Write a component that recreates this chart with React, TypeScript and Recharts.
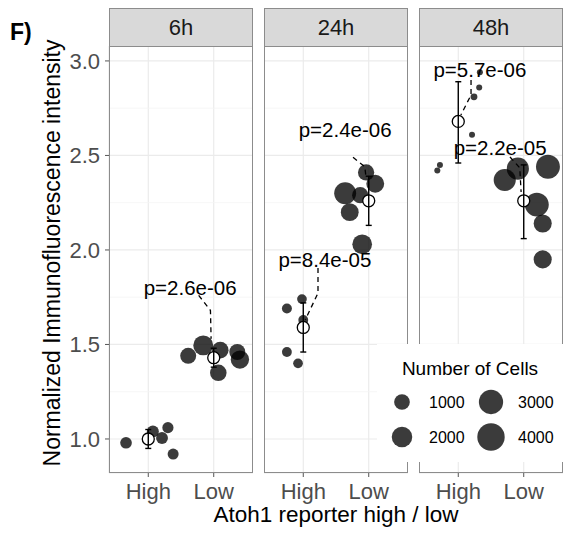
import React from 'react'
import {
  ScatterChart,
  Scatter,
  XAxis,
  YAxis,
  CartesianGrid,
  ReferenceLine
} from 'recharts'

const FONT = '"Liberation Sans", Arial, Helvetica, sans-serif'

const panelNames = ['6h', '24h', '48h']
const groupLabels = ['High', 'Low']
const xTicks = [1, 2]
const yTicks = [1.0, 1.5, 2.0, 2.5, 3.0]
const yMinorTicks = [1.25, 1.75, 2.25, 2.75]
const legendCells = [1000, 2000, 3000, 4000]

// 6h wells: jittered group position, intensity, number of cells
const pos6h = [0.66, 1.07, 1.21, 1.3, 1.38, 1.61, 1.84, 2.1, 2.36, 2.4, 2.07]
const val6h = [0.98, 1.04, 1.005, 1.06, 0.92, 1.44, 1.495, 1.47, 1.46, 1.42, 1.35]
const cells6h = [430, 470, 450, 380, 360, 1050, 1850, 1150, 1050, 1500, 1150]

// 24h wells
const pos24h = [0.75, 0.98, 0.75, 0.92, 1.0, 1.96, 2.1, 1.64, 1.87, 1.71, 1.9]
const val24h = [1.69, 1.74, 1.46, 1.4, 1.63, 2.41, 2.35, 2.3, 2.29, 2.2, 2.03]
const cells24h = [260, 240, 250, 240, 250, 1100, 1400, 2350, 1100, 1400, 1800]

// 48h wells
const pos48h = [1.33, 1.32, 1.24, 1.21, 0.68, 0.72, 1.91, 1.71, 2.37, 2.2, 2.29, 2.29]
const val48h = [2.94, 2.86, 2.81, 2.61, 2.42, 2.45, 2.43, 2.37, 2.44, 2.24, 2.14, 1.95]
const cells48h = [30, 30, 60, 30, 30, 30, 2400, 2400, 2900, 2900, 1450, 1450]

// group means (High, Low) with error bar limits
const mean6h = [1.0, 1.43]
const lo6h = [0.95, 1.38]
const hi6h = [1.05, 1.48]
const mean24h = [1.59, 2.26]
const lo24h = [1.46, 2.13]
const hi24h = [1.72, 2.39]
const mean48h = [2.68, 2.26]
const lo48h = [2.46, 2.06]
const hi48h = [2.89, 2.45]

// p-value labels and their leader lines
type Note = { label: string; lx: number; ly: number; path: [number, number][] }
const notes6h: Note[] = [
  { label: 'p=2.6e-06', lx: 1.64, ly: 1.8, path: [[1.77, 1.76], [1.95, 1.68], [1.96, 1.53]] }
]
const notes24h: Note[] = [
  { label: 'p=8.4e-05', lx: 1.33, ly: 1.947, path: [[1.225, 1.905], [1.225, 1.772], [1.03, 1.63]] },
  { label: 'p=2.4e-06', lx: 1.64, ly: 2.635, path: [[1.76, 2.49], [1.94, 2.44], [1.96, 2.38]] }
]
const notes48h: Note[] = [
  { label: 'p=5.7e-06', lx: 1.33, ly: 2.952, path: [[1.195, 2.899], [1.195, 2.82], [1.04, 2.714]] },
  { label: 'p=2.2e-05', lx: 1.64, ly: 2.54, path: [[1.79, 2.492], [1.94, 2.434], [1.96, 2.307]] }
]

const radiusFor = (n: number) => 2 + 0.185 * Math.sqrt(n)

const PLOT_TOP = 46
const PLOT_H = 427
const PANEL_W = 144
const YAXIS_W = 109
const XAXIS_H = 40
const panelLefts = [109, 264, 419]

type PanelProps = {
  pos: number[]
  val: number[]
  cells: number[]
  mean: number[]
  lo: number[]
  hi: number[]
  notes: Note[]
  showY: boolean
  left: number
}

const tickStyle = { fill: '#4d4d4d', fontSize: 22, fontFamily: FONT }

const Panel: React.FC<PanelProps> = ({ pos, val, cells, mean, lo, hi, notes, showY, left }) => {
  const points = pos.map((x, i) => ({ x, y: val[i], cells: cells[i] }))
  const means = mean.map((m, i) => ({ x: i + 1, y: m }))
  const width = PANEL_W + (showY ? YAXIS_W : 0)

  return (
    <div style={{ position: 'absolute', left: showY ? left - YAXIS_W : left, top: PLOT_TOP }}>
      <ScatterChart width={width} height={PLOT_H + XAXIS_H} margin={{ top: 0, right: 0, bottom: 0, left: 0 }}>
        <CartesianGrid stroke="#ebebeb" strokeWidth={1.2} />
        <XAxis
          type="number"
          dataKey="x"
          domain={[0.4, 2.6]}
          ticks={xTicks}
          interval={0}
          allowDataOverflow
          tickFormatter={(v: number) => groupLabels[v - 1]}
          axisLine={false}
          tickSize={4}
          tickMargin={6}
          tickLine={{ stroke: '#555' }}
          tick={tickStyle}
          height={XAXIS_H}
        />
        <YAxis
          type="number"
          dataKey="y"
          domain={[0.82, 3.079]}
          ticks={yTicks}
          interval={0}
          allowDataOverflow
          hide={!showY}
          tickFormatter={(v: number) => v.toFixed(1)}
          axisLine={false}
          tickSize={4}
          tickMargin={5}
          tickLine={{ stroke: '#555' }}
          tick={tickStyle}
          width={YAXIS_W}
        />
        {yMinorTicks.map((v) => (
          <ReferenceLine key={v} y={v} stroke="#f4f4f4" strokeWidth={0.8} />
        ))}
        <Scatter
          data={points}
          isAnimationActive={false}
          shape={(p: any) => (
            <circle cx={p.cx} cy={p.cy} r={radiusFor(p.payload.cells)} fill="#000" fillOpacity={0.77} />
          )}
        />
        <Scatter
          data={means}
          isAnimationActive={false}
          shape={(p: any) => <circle cx={p.cx} cy={p.cy} r={6} fill="#fff" stroke="#000" strokeWidth={1.3} />}
        />
        {/* error bars drawn above the open mean circles */}
        {mean.map((_, i) => (
          <Scatter
            key={'err' + i}
            data={[{ x: i + 1, y: lo[i] }, { x: i + 1, y: hi[i] }]}
            isAnimationActive={false}
            line={{ stroke: '#000', strokeWidth: 1.4 }}
            shape={(p: any) => (
              <line x1={p.cx - 3} x2={p.cx + 3} y1={p.cy} y2={p.cy} stroke="#000" strokeWidth={1.4} />
            )}
          />
        ))}
        {notes.map((n) => (
          <Scatter
            key={n.label + '-line'}
            data={n.path.map(([x, y]) => ({ x, y }))}
            isAnimationActive={false}
            line={{ stroke: '#000', strokeWidth: 1.3, strokeDasharray: '5 4' }}
            shape={() => <g />}
          />
        ))}
        {notes.map((n) => (
          <Scatter
            key={n.label}
            data={[{ x: n.lx, y: n.ly, label: n.label }]}
            isAnimationActive={false}
            shape={(p: any) => (
              <text x={p.cx} y={p.cy} dy="0.35em" textAnchor="middle" fontSize={20.5} fontFamily={FONT} fill="#000">
                {p.payload.label}
              </text>
            )}
          />
        ))}
      </ScatterChart>
    </div>
  )
}

const Overlay: React.FC = () => (
  <svg
    width={563}
    height={533}
    style={{ position: 'absolute', left: 0, top: 0, pointerEvents: 'none' }}
    fontFamily={FONT}
  >
    <text x={10} y={40} fontSize={23} fontWeight="bold" fill="#000">F)</text>
    {panelLefts.map((x, i) => (
      <g key={panelNames[i]}>
        <rect x={x + 0.5} y={8.5} width={PANEL_W - 1} height={PLOT_TOP - 8} fill="#d9d9d9" stroke="#8c8c8c" />
        <text x={x + PANEL_W / 2} y={27} dy="0.35em" textAnchor="middle" fontSize={22} fill="#1a1a1a">
          {panelNames[i]}
        </text>
        <rect x={x + 0.5} y={PLOT_TOP + 0.5} width={PANEL_W - 1} height={PLOT_H - 1} fill="none" stroke="#8c8c8c" />
      </g>
    ))}
    <text transform="translate(52,253) rotate(-90)" dy="0.35em" textAnchor="middle" fontSize={23} fill="#000">
      Normalized Immunofluorescence intensity
    </text>
    <text x={336} y={522} textAnchor="middle" fontSize={22.5} fill="#000">
      Atoh1 reporter high / low
    </text>
    <rect x={377} y={344} width={186} height={118} fill="#fff" />
    <text x={470} y={375} textAnchor="middle" fontSize={19} fill="#000">Number of Cells</text>
    {legendCells.map((n, i) => {
      const cx = i < 2 ? 402 : 491
      const cy = i % 2 === 0 ? 402 : 437
      return (
        <g key={n}>
          <circle cx={cx} cy={cy} r={radiusFor(n)} fill="#000" fillOpacity={0.77} />
          <text x={cx + 27} y={cy} dy="0.35em" fontSize={16} fill="#000">{n}</text>
        </g>
      )
    })}
  </svg>
)

const App: React.FC = () => (
  <div style={{ position: 'absolute', left: 0, top: 0, width: 563, height: 533, background: '#fff' }}>
    <Panel pos={pos6h} val={val6h} cells={cells6h} mean={mean6h} lo={lo6h} hi={hi6h} notes={notes6h} showY left={panelLefts[0]} />
    <Panel pos={pos24h} val={val24h} cells={cells24h} mean={mean24h} lo={lo24h} hi={hi24h} notes={notes24h} showY={false} left={panelLefts[1]} />
    <Panel pos={pos48h} val={val48h} cells={cells48h} mean={mean48h} lo={lo48h} hi={hi48h} notes={notes48h} showY={false} left={panelLefts[2]} />
    <Overlay />
  </div>
)

export default App
